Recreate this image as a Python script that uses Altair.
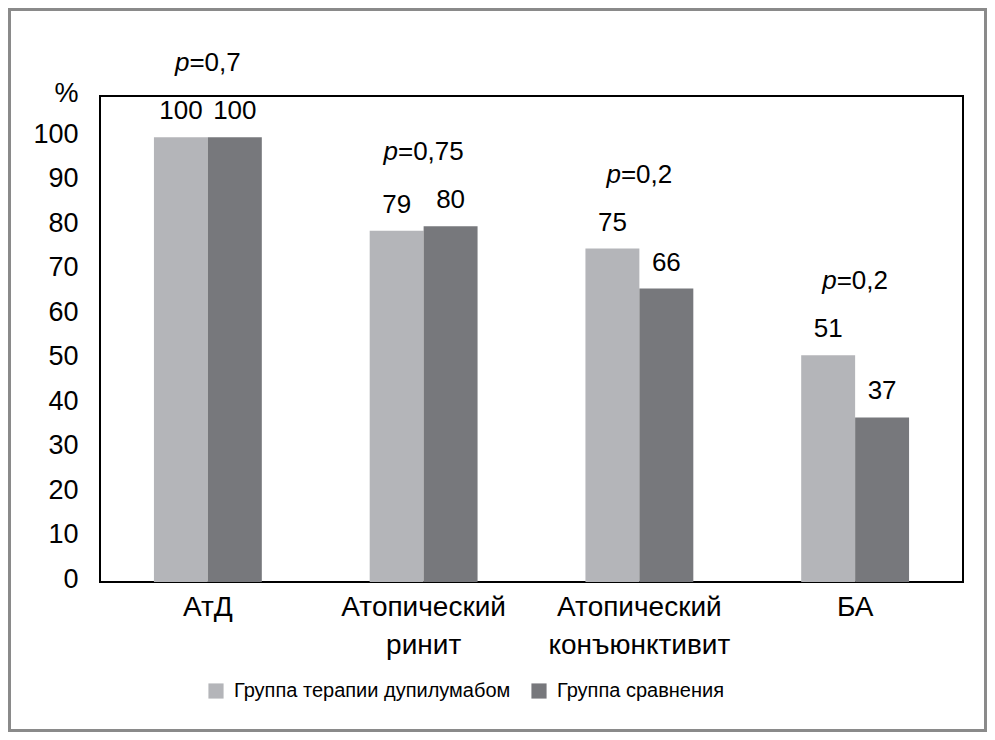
import altair as alt
import pandas as pd

categories = ["АтД", "Атопический ринит", "Атопический конъюнктивит", "БА"]
series = ["Группа терапии дупилумабом", "Группа сравнения"]
dupilumab = [100, 79, 75, 51]
comparison = [100, 80, 66, 37]
p_values = ["0,7", "0,75", "0,2", "0,2"]
y_ticks = [0, 10, 20, 30, 40, 50, 60, 70, 80, 90, 100]
colors = ["#b4b5b9", "#77787c"]

FONT = "Liberation Sans, Arial, Helvetica, sans-serif"
FS = 26
W, H = 863, 486
PAD = {"left": 92, "top": 88, "right": 24, "bottom": 150}

rows = []
for c, a, b in zip(categories, dupilumab, comparison):
    rows.append({"cat": c, "series": series[0], "value": a})
    rows.append({"cat": c, "series": series[1], "value": b})
df = pd.DataFrame(rows)

pdf = pd.DataFrame({
    "cat": categories,
    "ymax": [max(a, b) for a, b in zip(dupilumab, comparison)],
    "rest": ["=" + p for p in p_values],
})

Y_MAX = 109.3

x_enc = alt.X("cat:N", sort=categories,
              scale=alt.Scale(paddingInner=0.5, paddingOuter=0.25),
              axis=alt.Axis(title=None, labelAngle=0, labelFontSize=28, labelColor="black",
                            labelExpr="split(datum.label, ' ')", labelLineHeight=38,
                            labelPadding=11, ticks=False, domain=False, labelBaseline="top",
                            labelLimit=400))
y_scale = alt.Scale(domain=[0, Y_MAX], nice=False)

bars = alt.Chart(df).mark_bar().encode(
    x=x_enc,
    xOffset=alt.XOffset("series:N", sort=series, scale=alt.Scale(paddingInner=0)),
    y=alt.Y("value:Q", scale=y_scale,
            axis=alt.Axis(title=None, values=y_ticks + [Y_MAX], grid=False, ticks=False, domain=False,
                          labelFontSize=27, labelColor="black", labelPadding=22, labelOffset=-3,
                          labelExpr="datum.value > 105 ? '%' : datum.label")),
    color=alt.Color("series:N", sort=series, scale=alt.Scale(domain=series, range=colors),
                    legend=alt.Legend(title=None, orient="none", legendX=106, legendY=585,
                                      direction="horizontal", symbolType="square", symbolSize=230,
                                      symbolStrokeWidth=0, labelFontSize=20, labelColor="black",
                                      labelOffset=8, columnPadding=18, labelLimit=400)),
)

vals = alt.Chart(df).mark_text(fontSize=FS, dy=-26, baseline="middle", color="black").encode(
    x=alt.X("cat:N", sort=categories),
    xOffset=alt.XOffset("series:N", sort=series),
    y=alt.Y("value:Q", scale=y_scale),
    text=alt.Text("value:Q"),
)

cw = {"=": 0.584, ",": 0.278, "p": 0.556}
layers = [bars, vals]
for c, p in zip(categories, p_values):
    rest = "=" + p
    w_rest = sum(cw.get(ch, 0.556) for ch in rest) * FS
    w_p = cw["p"] * FS
    d = (w_p - w_rest) / 2
    base = alt.Chart(pdf).transform_filter(alt.datum.cat == c)
    layers.append(base.mark_text(fontSize=FS, fontStyle="italic", align="right", dx=d, dy=-74,
                                 baseline="middle", color="black", text="p").encode(
        x=alt.X("cat:N", sort=categories), y=alt.Y("ymax:Q", scale=y_scale)))
    layers.append(base.mark_text(fontSize=FS, align="left", dx=d, dy=-74,
                                 baseline="middle", color="black").encode(
        x=alt.X("cat:N", sort=categories), y=alt.Y("ymax:Q", scale=y_scale), text="rest:N"))

frame = alt.Chart(alt.Data(values=[{}])).mark_rect(fillOpacity=0, stroke="#8a8a8a", strokeWidth=3).encode(
    x=alt.value(-PAD["left"] + 1.5), x2=alt.value(W + PAD["right"] - 1.5),
    y=alt.value(-PAD["top"] + 1.5), y2=alt.value(H + PAD["bottom"] - 1.5),
)
layers.append(frame)

chart = alt.layer(*layers).properties(
    width=W, height=H, autosize=alt.AutoSizeParams(type="none"), padding=PAD,
).configure(font=FONT, background="white").configure_view(stroke="black", strokeWidth=2)

chart.save("out.html", embed_options={"renderer": "svg", "actions": False})
